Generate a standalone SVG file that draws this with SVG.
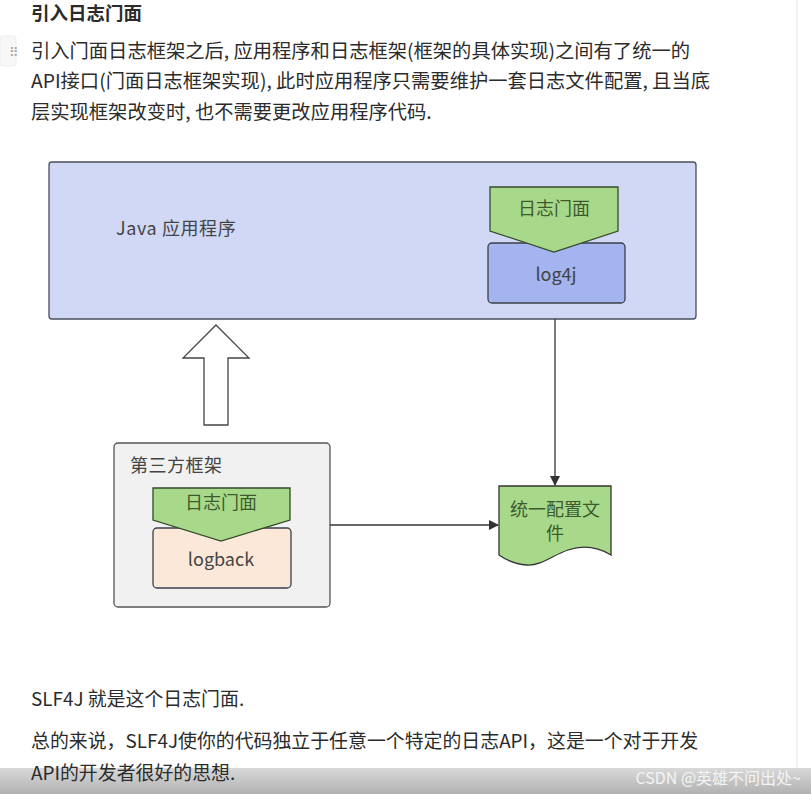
<svg xmlns="http://www.w3.org/2000/svg" width="811" height="794" viewBox="0 0 811 794">
<defs>
<style>
.t{font-family:"Noto Sans CJK SC","Liberation Sans",sans-serif;fill:#2b2b2b;}
.p{font-size:19.3px;}
.b{font-size:18.9px;}
.n{font-family:"Noto Sans CJK SC","Liberation Sans",sans-serif;fill:#444;font-size:18px;}
.g{fill:#3d5a2d;}
.ln{stroke:#333;stroke-width:1.3;fill:none;}
</style>
<marker id="ah" markerWidth="10" markerHeight="10" refX="9" refY="5" orient="auto" markerUnits="userSpaceOnUse">
<path d="M0,0 L10,5 L0,10 Z" fill="#333"/>
</marker>
<linearGradient id="bar" x1="0" y1="0" x2="0" y2="1">
<stop offset="0" stop-color="#d4d4d4"/>
<stop offset="1" stop-color="#a9a9a9"/>
</linearGradient>
</defs>
<rect width="811" height="794" fill="#fff"/>
<line x1="797" y1="0" x2="797" y2="794" stroke="#e4e4e4"/>
<rect x="0" y="36" width="16" height="30" rx="3" fill="#f7f7f7" stroke="#ececec"/>
<text x="9" y="57" class="t" font-size="13" style="fill:#aaa">⠿</text>
<text x="31" y="20" class="t" font-size="18.5" font-weight="bold">引入日志门面</text>
<text x="31" y="58" class="t p">引入门面日志框架之后, 应用程序和日志框架(框架的具体实现)之间有了统一的</text>
<text x="31" y="88" class="t p">API接口(门面日志框架实现), 此时应用程序只需要维护一套日志文件配置, 且当底</text>
<text x="31" y="119" class="t p">层实现框架改变时, 也不需要更改应用程序代码.</text>

<g id="java-app">
<rect x="49" y="162" width="647" height="157" rx="3" fill="#d0d8f6" stroke="#4a4f5a" stroke-width="1.3"/>
<text x="116" y="235" class="n" font-size="20.5" letter-spacing="0.6">Java 应用程序</text>
</g>
<g id="log4j">
<rect x="488" y="243" width="137" height="60" rx="4" fill="#a3b4ef" stroke="#3a3f4a" stroke-width="1.3"/>
<text x="556" y="281" class="n" text-anchor="middle" font-size="20.5">log4j</text>
</g>
<g id="facade-top">
<path d="M490,187 L618,187 L618,231 L554,252 L490,231 Z" fill="#a8d98a" stroke="#354a2a" stroke-width="1.3"/>
<text x="554" y="215" class="n g" text-anchor="middle">日志门面</text>
</g>

<g id="up-arrow">
<path d="M216,325 L249,358 L228,358 L228,425 L204,425 L204,358 L183,358 Z" fill="#fff" stroke="#444" stroke-width="1.3"/>
</g>

<g id="third-party">
<rect x="114" y="443" width="216" height="164" rx="4" fill="#f1f1f1" stroke="#555" stroke-width="1.3"/>
<text x="130" y="472" class="n" font-size="20" letter-spacing="0.5">第三方框架</text>
</g>
<g id="logback">
<rect x="153" y="528" width="138" height="60" rx="4" fill="#fce8d9" stroke="#3a3f4a" stroke-width="1.3"/>
<text x="221" y="566" class="n" text-anchor="middle" font-size="21">logback</text>
</g>
<g id="facade-bottom">
<path d="M153,488 L290,488 L290,520 L221,541 L153,520 Z" fill="#a8d98a" stroke="#354a2a" stroke-width="1.3"/>
<text x="221" y="509" class="n g" text-anchor="middle">日志门面</text>
</g>

<g id="config-file">
<path d="M499,486 L611,486 L611,555 C596,546 583,545 568,550 C553,555 541,566 527,565 C515,564 506,560 499,555 Z" fill="#a8d98a" stroke="#333" stroke-width="1.3"/>
<text x="555" y="516" class="n g" text-anchor="middle" font-size="18">统一配置文</text>
<text x="555" y="540" class="n g" text-anchor="middle" font-size="18">件</text>
</g>

<g id="connectors">
<line x1="555" y1="319" x2="555" y2="485" class="ln" marker-end="url(#ah)"/>
<line x1="330" y1="525" x2="498" y2="525" class="ln" marker-end="url(#ah)"/>
</g>

<text x="31" y="706" class="t b">SLF4J 就是这个日志门面.</text>
<text x="31" y="748" class="t b">总的来说，SLF4J使你的代码独立于任意一个特定的日志API，这是一个对于开发</text>
<rect x="0" y="768" width="811" height="26" fill="url(#bar)" opacity="0.9"/>
<text x="31" y="780" class="t b">API的开发者很好的思想.</text>
<text x="801" y="784" font-family="Noto Sans CJK SC,Liberation Sans,sans-serif" font-size="16" fill="#f4f4f4" text-anchor="end">CSDN @英雄不问出处~</text>
</svg>
